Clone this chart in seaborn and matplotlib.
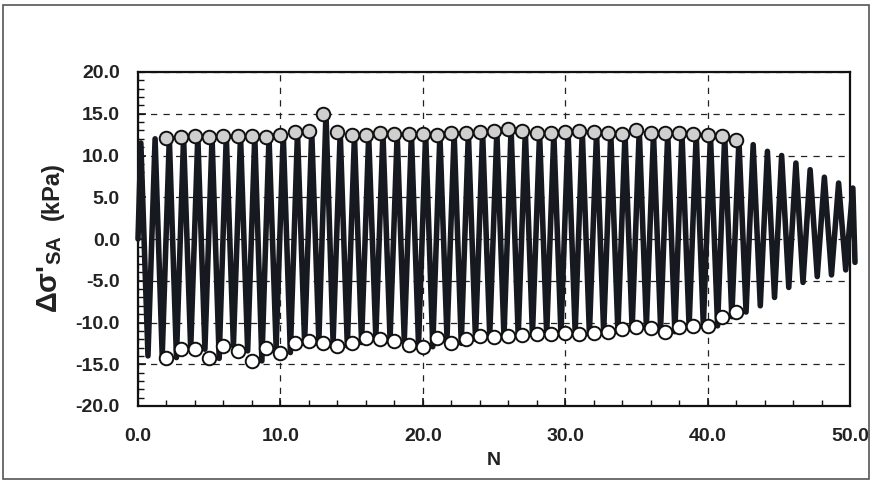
import numpy as np
import pandas as pd
import matplotlib
matplotlib.use("Agg")
import matplotlib.pyplot as plt
import seaborn as sns

# ---------------- data ----------------
# peak value of each loading cycle k = 0..50 (signal peaks near N = k + 0.2)
cycle_peaks = [11.5, 12.0,
               12.1, 12.2, 12.3, 12.2, 12.35, 12.35, 12.35, 12.2, 12.5, 12.8,
               12.9, 15.0, 12.8, 12.4, 12.4, 12.7, 12.6, 12.6, 12.6, 12.5,
               12.7, 12.7, 12.8, 12.9, 13.2, 12.9, 12.7, 12.7, 12.8, 12.9,
               12.8, 12.7, 12.6, 13.1, 12.65, 12.7, 12.65, 12.55, 12.4, 12.3,
               11.8,
               11.3, 10.5, 10.0, 9.1, 8.3, 7.4, 6.7, 6.1]
# trough value of each loading cycle k = 0..49 (signal troughs near N = k + 0.7)
cycle_troughs = [-14.0, -14.0,
                 -14.2, -13.2, -13.2, -14.3, -12.8, -13.4, -14.6, -13.0, -13.6,
                 -12.4, -12.2, -12.4, -12.8, -12.4, -11.8, -12.0, -12.2, -12.7,
                 -12.9, -11.9, -12.5, -12.0, -11.6, -11.7, -11.6, -11.5, -11.4,
                 -11.4, -11.2, -11.4, -11.2, -11.1, -10.8, -10.5, -10.7, -11.1,
                 -10.5, -10.4, -10.4, -9.3, -8.75,
                 -8.0, -7.0, -5.8, -5.2, -4.5, -4.3, -3.7]
peak_phase = 0.2
trough_phase = 0.7
start_value = 0.0
end_value = -2.8

# marked cycles (circles)
marked_N = list(range(2, 43))
marked_max = cycle_peaks[2:43]
marked_min = cycle_troughs[2:43]

x_ticks = [0, 10, 20, 30, 40, 50]
y_ticks = [-20, -15, -10, -5, 0, 5, 10, 15, 20]

# ---------------- build the signal ----------------
sig_N = [0.0]
sig_v = [start_value]
for k in range(len(cycle_peaks)):
    sig_N.append(k + peak_phase)
    sig_v.append(cycle_peaks[k])
    if k < len(cycle_troughs):
        sig_N.append(k + trough_phase)
        sig_v.append(cycle_troughs[k])
sig_N.append(len(cycle_peaks) - 1 + 0.35)
sig_v.append(end_value)
sig = pd.DataFrame({"N": sig_N, "v": sig_v})
circ_top = pd.DataFrame({"N": marked_N, "v": marked_max})
circ_bot = pd.DataFrame({"N": marked_N, "v": marked_min})

# ---------------- style ----------------
sns.set_style("ticks")
plt.rcParams["font.family"] = ["Liberation Sans", "DejaVu Sans"]
plt.rcParams["font.weight"] = "bold"
plt.rcParams["mathtext.fontset"] = "custom"
plt.rcParams["mathtext.rm"] = "Liberation Sans:bold"
plt.rcParams["mathtext.bf"] = "Liberation Sans:bold"
plt.rcParams["mathtext.it"] = "Liberation Sans:bold"

fig = plt.figure(figsize=(8.73, 4.82), dpi=100)
ax = fig.add_axes([138 / 873, 1 - 406 / 482, (850 - 138) / 873, (406 - 72) / 482])

line_col = "#161a20"
txt_col = "#222222"
ax.grid(True, which="major", color="#222222", lw=0.9, ls=(0, (5, 5)), zorder=0)
ax.set_axisbelow(True)

sns.lineplot(data=sig, x="N", y="v", sort=False, estimator=None, ax=ax,
             color=line_col, lw=4.0, zorder=3, clip_on=False)
for l in ax.lines:
    l.set_solid_joinstyle("round")
    l.set_solid_capstyle("round")

sns.scatterplot(data=circ_top, x="N", y="v", ax=ax, s=95, marker="o",
                facecolor="#cfcfcf", edgecolor="#111111", linewidth=1.4,
                zorder=5, clip_on=False)
sns.scatterplot(data=circ_bot, x="N", y="v", ax=ax, s=95, marker="o",
                facecolor="white", edgecolor="#111111", linewidth=1.4,
                zorder=5, clip_on=False)

ax.set_xlim(0, 50)
ax.set_ylim(-20, 20)
ax.set_xticks(x_ticks)
ax.set_yticks(y_ticks)
ax.set_xticks(np.arange(0, 51, 2), minor=True)
ax.set_yticks(np.arange(-20, 21, 1), minor=True)
ax.set_xticklabels([f"{v:.1f}" for v in x_ticks])
ax.set_yticklabels([f"{v:.1f}" for v in y_ticks])
ax.tick_params(axis="both", which="major", direction="in", length=6, width=1.2,
               labelsize=14, color="#111111")
ax.tick_params(axis="both", which="minor", direction="in", length=4, width=1.0,
               color="#111111")
ax.tick_params(axis="x", which="major", pad=16)
ax.tick_params(axis="y", which="major", pad=13)
for lab in ax.get_xticklabels() + ax.get_yticklabels():
    lab.set_fontweight("bold")
    lab.set_color(txt_col)
for s in ax.spines.values():
    s.set_linewidth(1.6)
    s.set_color("#111111")
    s.set_visible(True)

ax.set_xlabel("N", fontsize=14, fontweight="bold", color=txt_col, labelpad=5)
ax.set_ylabel("")
# y-axis label: large "Δσ'SA" and smaller "(kPa)"
fig.text(50 / 873, 1 - 313 / 482, r"Δσ'$_{\mathbf{SA}}$", rotation=90,
         ha="center", va="bottom", fontsize=21, fontweight="bold", color=txt_col)
fig.text(52 / 873, 1 - 162 / 482, "(kPa)", rotation=90,
         ha="center", va="top", fontsize=17, fontweight="bold", color=txt_col)

fig.patches.append(plt.Rectangle((3 / 873, 3 / 482), 866 / 873, 474 / 482,
                                 transform=fig.transFigure, fill=False,
                                 ec="#555555", lw=1.2))

fig.savefig("out.png", dpi=100, facecolor="white")
